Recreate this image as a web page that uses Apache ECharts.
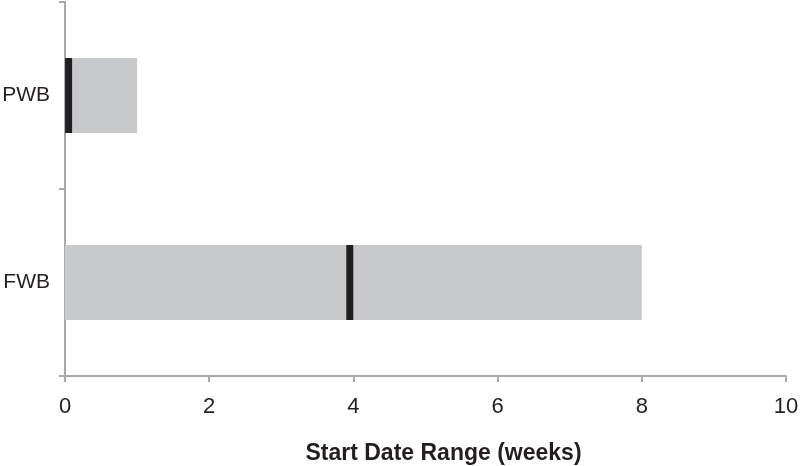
<!DOCTYPE html>
<html>
<head>
<meta charset="utf-8">
<script src="https://cdn.jsdelivr.net/npm/echarts@6/dist/echarts.min.js"></script>
<style>html,body{margin:0;padding:0;background:#fff}#c{width:800px;height:466px}</style>
</head>
<body>
<div id="c"></div>
<script>
// Data
var categories = ['FWB', 'PWB'];          // bottom to top
var rangeEnd = [8, 1];                     // gray range bars (weeks)
var markerValue = [3.95, 0.05];            // black marker position (weeks)
var xTicks = [0, 2, 4, 6, 8, 10];
var axisTitle = 'Start Date Range (weeks)';

var chart = echarts.init(document.getElementById('c'), null, {renderer: 'canvas'});
var font = 'Liberation Sans, Arial, Helvetica, sans-serif';
var axisColor = '#a7a9ac';
chart.setOption({
  animation: false,
  grid: {left: 65, right: 14, top: 2, bottom: 90, containLabel: false, outerBoundsMode: 'none'},
  xAxis: {
    type: 'value',
    min: xTicks[0], max: xTicks[xTicks.length - 1], interval: 2,
    splitLine: {show: false},
    axisLine: {show: true, lineStyle: {color: axisColor, width: 2}},
    axisTick: {show: true, length: 6, lineStyle: {color: axisColor, width: 2}},
    axisLabel: {color: '#231f20', fontSize: 22, fontFamily: font, margin: 20},
    name: axisTitle,
    nameLocation: 'middle',
    nameGap: 66,
    nameTextStyle: {color: '#231f20', fontSize: 23, fontWeight: 'bold', fontFamily: font, padding: [0, 0, 0, 36]}
  },
  yAxis: {
    type: 'category',
    data: categories,
    axisLine: {show: true, lineStyle: {color: axisColor, width: 2}},
    axisTick: {show: true, length: 6, lineStyle: {color: axisColor, width: 2}},
    axisLabel: {color: '#231f20', fontSize: 21, fontFamily: font, margin: 15}
  },
  series: [
    {
      type: 'bar',
      data: rangeEnd,
      barWidth: 75,
      itemStyle: {color: '#c8c9ca'},
      z: 1
    },
    {
      type: 'scatter',
      data: markerValue.map(function (v, i) { return [v, categories[i]]; }),
      symbol: 'rect',
      symbolSize: [7, 75],
      itemStyle: {color: '#231f20', opacity: 1},
      z: 3
    }
  ]
});
</script>
</body>
</html>
